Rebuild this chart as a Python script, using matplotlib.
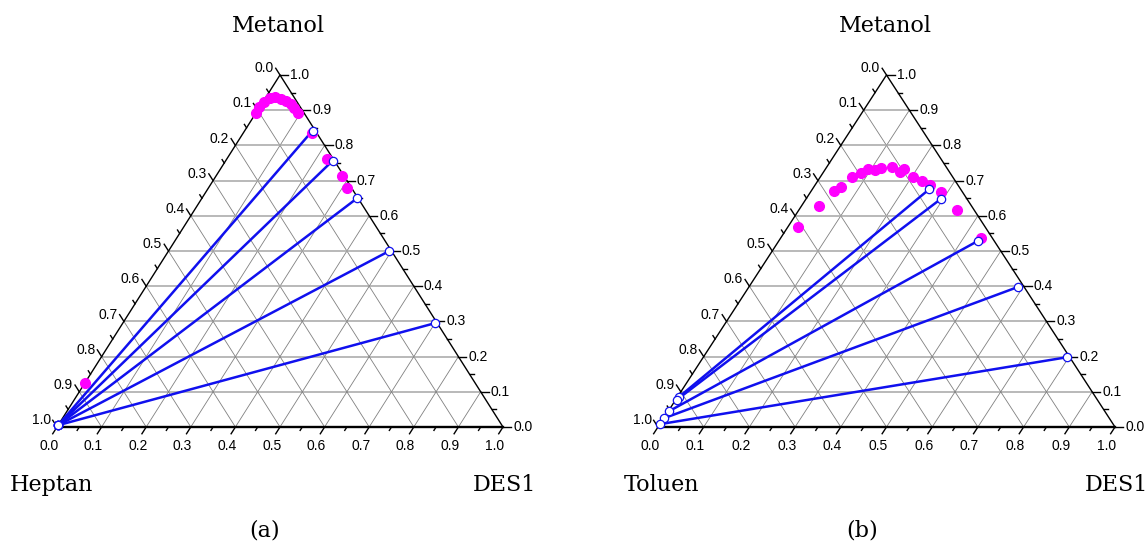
import numpy as np
import matplotlib.pyplot as plt

# compositions as (DES1, Metanol) mass fractions; the third component is 1 - both
# (a) Heptan / DES1 / Metanol
a_tieL_des1 = [0.0, 0.0, 0.0, 0.0, 0.0]
a_tieL_met = [0.005, 0.005, 0.005, 0.005, 0.005]
a_tieR_des1 = [0.152, 0.240, 0.348, 0.495, 0.700]
a_tieR_met = [0.842, 0.757, 0.650, 0.500, 0.295]
a_bin_des1 = [0.0, 0.0, 0.003, 0.009, 0.020, 0.035, 0.050, 0.065, 0.080, 0.095,
              0.154, 0.225, 0.282, 0.312, 0.0]
a_bin_met = [0.893, 0.908, 0.923, 0.935, 0.937, 0.933, 0.926, 0.918, 0.905, 0.891,
             0.834, 0.761, 0.713, 0.678, 0.124]

# (b) Toluen / DES1 / Metanol
b_tieL_des1 = [0.003, 0.003, 0.002, 0.001, 0.0]
b_tieL_met = [0.085, 0.078, 0.045, 0.025, 0.008]
b_tieR_des1 = [0.256, 0.295, 0.436, 0.589, 0.795]
b_tieR_met = [0.676, 0.648, 0.529, 0.398, 0.198]
b_bin_des1 = [0.022, 0.038, 0.050, 0.061, 0.071, 0.083, 0.094, 0.110, 0.120, 0.142,
              0.168, 0.172, 0.203, 0.228, 0.252, 0.285, 0.345, 0.438]
b_bin_met = [0.567, 0.629, 0.670, 0.681, 0.709, 0.721, 0.733, 0.730, 0.735, 0.739,
             0.724, 0.732, 0.709, 0.699, 0.688, 0.667, 0.617, 0.538]

ticks = np.round(np.arange(0, 1.01, 0.1), 2)
minor = np.round(np.arange(0.05, 1.0, 0.1), 2)

W, H = 1147, 545
DPI = 100
PT = 72.0 / DPI  # points per pixel


def xy(des1, met):
    des1 = np.asarray(des1, float)
    met = np.asarray(met, float)
    return des1 + 0.5 * met, met


def panel(ax, wpx, hpx, tieL_d, tieL_m, tieR_d, tieR_m, bin_d, bin_m):
    ax.set_xlim(0, 1)
    ax.set_ylim(0, 1)
    ax.axis('off')
    kw = dict(clip_on=False)

    # grid
    for v in ticks[1:-1]:
        ax.plot([0.5 * v, 1 - 0.5 * v], [v, v], color='#a6a6a6', lw=1.1, **kw)
        ax.plot([v, v + 0.5 * (1 - v)], [0, 1 - v], color='#808080', lw=0.6, **kw)
        ax.plot([1 - v, 0.5 * (1 - v)], [0, 1 - v], color='#808080', lw=0.6, **kw)

    # edges
    ax.plot([0, 1], [0, 0], color='k', lw=1.7, **kw)
    ax.plot([0, 0.5, 1], [0, 1, 0], color='k', lw=1.0, **kw)

    s = 1.0 / np.hypot(0.5 * wpx, hpx)  # data length of 1 px along slanted edges
    for vals, L in ((ticks, 8), (minor, 4)):
        for v in vals:
            # right axis: Metanol
            ax.plot([1 - 0.5 * v, 1 - 0.5 * v + L / wpx], [v, v], color='k', lw=1.0, **kw)
            # bottom axis: DES1
            ax.plot([v, v - 0.5 * L * s], [0, -L * s], color='k', lw=1.0, **kw)
            # left axis: Heptan/Toluen
            x0, y0 = 0.5 * (1 - v), 1 - v
            ax.plot([x0, x0 - 0.5 * L * s], [y0, y0 + L * s], color='k', lw=1.0, **kw)

    tkw = dict(textcoords='offset points', fontsize=10, family='Liberation Sans',
               annotation_clip=False)
    for v in ticks:
        ax.annotate(f'{v:.1f}', (1 - 0.5 * v + 8 / wpx, v), xytext=(2 * PT, 0),
                    ha='left', va='center', **tkw)
        ax.annotate(f'{v:.1f}', (v - 4 * s, -8 * s), xytext=(-4 * PT, -5 * PT),
                    ha='center', va='top', **tkw)
        ax.annotate(f'{v:.1f}', (0.5 * (1 - v) - 4 * s, 1 - v + 8 * s), xytext=(-2 * PT, 0),
                    ha='right', va='center', **tkw)

    # tie lines
    xl, yl = xy(tieL_d, tieL_m)
    xr, yr = xy(tieR_d, tieR_m)
    for i in range(len(xl)):
        ax.plot([xl[i], xr[i]], [yl[i], yr[i]], color='#1010ee', lw=1.8, zorder=3, **kw)

    # binodal points
    bx, by = xy(bin_d, bin_m)
    ax.plot(bx, by, 'o', color='#ff00ff', ms=7, mec='#ff00ff', zorder=4, **kw)

    ax.plot(xl, yl, 'o', mfc='white', mec='#1010ee', ms=6, mew=0.9, zorder=5, **kw)
    ax.plot(xr, yr, 'o', mfc='white', mec='#1010ee', ms=6, mew=0.9, zorder=5, **kw)


fig = plt.figure(figsize=(W / DPI, H / DPI), dpi=DPI)

# triangle bounding boxes in pixels (left, right, top, bottom)
boxes = [(57, 503, 75, 427), (658, 1115, 75, 427)]
axs = []
for (l, r, t, b) in boxes:
    axs.append(fig.add_axes([l / W, (H - b) / H, (r - l) / W, (b - t) / H]))

panel(axs[0], 446, 352, a_tieL_des1, a_tieL_met, a_tieR_des1, a_tieR_met, a_bin_des1, a_bin_met)
panel(axs[1], 457, 352, b_tieL_des1, b_tieL_met, b_tieR_des1, b_tieR_met, b_bin_des1, b_bin_met)


def label(x, y, s):
    fig.text(x / W, 1 - y / H, s, ha='center', va='center', fontsize=16, family='DejaVu Serif')


label(278, 26, 'Metanol')
label(51, 485, 'Heptan')
label(505, 485, 'DES1')
label(265, 530, '(a)')
label(885, 26, 'Metanol')
label(662, 485, 'Toluen')
label(1117, 485, 'DES1')
label(862, 530, '(b)')

fig.savefig('out.png', dpi=DPI)
